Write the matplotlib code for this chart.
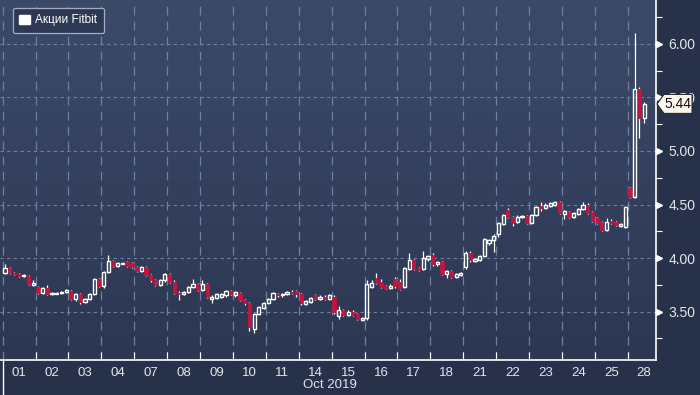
import matplotlib
matplotlib.use('Agg')
import matplotlib.pyplot as plt
import numpy as np
from matplotlib.patches import Rectangle, Polygon, Patch
from matplotlib.colors import LinearSegmentedColormap
import matplotlib.transforms as mtrans

plt.rcParams['font.family'] = ['Liberation Sans Narrow', 'Liberation Sans', 'DejaVu Sans']

# ---------------- data (hourly candles, per trading day) ----------------
day_labels = ['01', '02', '03', '04', '07', '08', '09', '10', '11', '14',
              '15', '16', '17', '18', '21', '22', '23', '24', '25', '28']
month_label = 'Oct 2019'
series_name = 'Акции Fitbit'
last_price = 5.44

opens = [
    [3.86, 3.91, 3.86, 3.85, 3.83, 3.83, 3.75],
    [3.73, 3.67, 3.72, 3.66, 3.66, 3.67, 3.68],
    [3.69, 3.62, 3.66, 3.59, 3.62, 3.66, 3.80],
    [3.74, 3.87, 3.97, 3.93, 3.94, 3.96, 3.95],
    [3.92, 3.88, 3.92, 3.84, 3.79, 3.75, 3.79],
    [3.85, 3.78, 3.67, 3.66, 3.68, 3.73, 3.76],
    [3.70, 3.76, 3.62, 3.63, 3.64, 3.65, 3.69],
    [3.65, 3.67, 3.61, 3.58, 3.34, 3.48, 3.53],
    [3.58, 3.62, 3.66, 3.65, 3.66, 3.68, 3.69],
    [3.66, 3.57, 3.59, 3.65, 3.62, 3.64, 3.62],
    [3.64, 3.46, 3.51, 3.47, 3.50, 3.48, 3.42],
    [3.44, 3.73, 3.81, 3.78, 3.74, 3.72, 3.80],
    [3.78, 3.73, 3.90, 3.98, 3.91, 3.90, 3.99],
    [4.03, 3.94, 3.96, 3.85, 3.88, 3.82, 3.84],
    [3.92, 4.05, 3.97, 3.98, 4.02, 4.14, 4.17],
    [4.22, 4.32, 4.45, 4.38, 4.34, 4.38, 4.39],
    [4.33, 4.40, 4.49, 4.47, 4.49, 4.50, 4.52],
    [4.41, 4.43, 4.38, 4.41, 4.46, 4.50, 4.43],
    [4.37, 4.34, 4.26, 4.35, 4.34, 4.30, 4.29],
    [4.65, 4.57, 5.58, 5.31],
]
closes = [
    [3.91, 3.86, 3.85, 3.83, 3.84, 3.76, 3.77],
    [3.67, 3.72, 3.66, 3.67, 3.67, 3.68, 3.70],
    [3.62, 3.66, 3.59, 3.62, 3.66, 3.80, 3.74],
    [3.87, 3.97, 3.93, 3.95, 3.95, 3.93, 3.92],
    [3.88, 3.92, 3.84, 3.79, 3.75, 3.79, 3.85],
    [3.78, 3.67, 3.66, 3.68, 3.73, 3.76, 3.70],
    [3.76, 3.64, 3.64, 3.66, 3.66, 3.69, 3.66],
    [3.68, 3.61, 3.58, 3.36, 3.48, 3.54, 3.58],
    [3.62, 3.67, 3.65, 3.66, 3.68, 3.67, 3.66],
    [3.58, 3.60, 3.63, 3.62, 3.64, 3.62, 3.65],
    [3.50, 3.51, 3.47, 3.50, 3.47, 3.43, 3.44],
    [3.76, 3.77, 3.77, 3.73, 3.72, 3.74, 3.74],
    [3.71, 3.91, 3.98, 3.90, 3.89, 4.00, 4.02],
    [3.94, 3.96, 3.85, 3.88, 3.82, 3.85, 3.86],
    [4.05, 3.98, 3.99, 4.02, 4.18, 4.17, 4.21],
    [4.33, 4.40, 4.38, 4.33, 4.38, 4.39, 4.33],
    [4.40, 4.48, 4.47, 4.50, 4.51, 4.52, 4.42],
    [4.44, 4.38, 4.42, 4.46, 4.50, 4.42, 4.35],
    [4.33, 4.26, 4.34, 4.33, 4.31, 4.32, 4.48],
    [4.57, 5.58, 5.31, 5.44],
]
highs = [
    [3.94, 3.92, 3.87, 3.86, 3.85, 3.84, 3.79],
    [3.74, 3.73, 3.75, 3.68, 3.68, 3.69, 3.71],
    [3.70, 3.67, 3.67, 3.63, 3.67, 3.81, 3.81],
    [3.88, 4.03, 3.98, 3.96, 3.96, 3.97, 3.96],
    [3.93, 3.93, 3.93, 3.85, 3.80, 3.80, 3.86],
    [3.86, 3.79, 3.69, 3.69, 3.74, 3.80, 3.77],
    [3.79, 3.77, 3.65, 3.67, 3.67, 3.70, 3.70],
    [3.69, 3.68, 3.62, 3.59, 3.49, 3.55, 3.59],
    [3.63, 3.68, 3.67, 3.67, 3.69, 3.70, 3.70],
    [3.67, 3.61, 3.64, 3.66, 3.65, 3.65, 3.66],
    [3.65, 3.55, 3.52, 3.51, 3.51, 3.49, 3.45],
    [3.79, 3.79, 3.86, 3.80, 3.75, 3.76, 3.82],
    [3.80, 3.92, 4.05, 3.99, 3.92, 4.07, 4.03],
    [4.05, 3.97, 3.97, 3.89, 3.89, 3.86, 3.87],
    [4.07, 4.07, 4.00, 4.03, 4.19, 4.18, 4.22],
    [4.34, 4.41, 4.47, 4.39, 4.40, 4.40, 4.40],
    [4.41, 4.49, 4.52, 4.51, 4.52, 4.53, 4.53],
    [4.45, 4.44, 4.43, 4.47, 4.52, 4.51, 4.44],
    [4.38, 4.35, 4.37, 4.36, 4.35, 4.33, 4.49],
    [4.66, 6.10, 5.60, 5.46],
]
lows = [
    [3.85, 3.85, 3.84, 3.82, 3.82, 3.75, 3.74],
    [3.66, 3.66, 3.65, 3.65, 3.66, 3.66, 3.67],
    [3.61, 3.60, 3.57, 3.58, 3.61, 3.65, 3.73],
    [3.72, 3.86, 3.92, 3.92, 3.94, 3.92, 3.91],
    [3.87, 3.87, 3.83, 3.78, 3.74, 3.74, 3.78],
    [3.77, 3.66, 3.61, 3.65, 3.67, 3.72, 3.69],
    [3.69, 3.63, 3.58, 3.62, 3.63, 3.64, 3.65],
    [3.64, 3.60, 3.56, 3.32, 3.30, 3.47, 3.52],
    [3.57, 3.61, 3.64, 3.64, 3.65, 3.66, 3.64],
    [3.56, 3.56, 3.58, 3.61, 3.61, 3.61, 3.61],
    [3.48, 3.43, 3.46, 3.46, 3.46, 3.42, 3.41],
    [3.42, 3.72, 3.76, 3.72, 3.71, 3.71, 3.72],
    [3.70, 3.72, 3.89, 3.89, 3.88, 3.89, 3.97],
    [3.93, 3.93, 3.84, 3.81, 3.81, 3.81, 3.83],
    [3.90, 3.96, 3.96, 3.97, 4.01, 4.12, 4.06],
    [4.20, 4.31, 4.37, 4.30, 4.33, 4.37, 4.32],
    [4.32, 4.39, 4.44, 4.46, 4.48, 4.49, 4.41],
    [4.36, 4.37, 4.37, 4.40, 4.45, 4.41, 4.34],
    [4.32, 4.25, 4.25, 4.32, 4.30, 4.29, 4.28],
    [4.56, 4.56, 5.12, 5.26],
]
y_ticks = [3.50, 4.00, 4.50, 5.00, 5.50, 6.00]

# ---------------- styling ----------------
UP = 'white'
DOWN = '#c0163f'
GRID = '#6d82a3'
TXT = '#e4e6ea'
BARS_PER_DAY = 7

fig = plt.figure(figsize=(7, 3.95), dpi=100, facecolor='#27314a')
ax = fig.add_axes([0, 35 / 395, 656 / 700, 360 / 395])
ax.set_facecolor('#33405c')

cmap = LinearSegmentedColormap.from_list('bg', ['#2c3752', '#3c4a69'])
grad = np.linspace(0, 1, 256).reshape(-1, 1)
ax.imshow(grad, extent=[0, 1, 0, 1], transform=ax.transAxes, cmap=cmap,
          origin='lower', aspect='auto', zorder=0, interpolation='bilinear')

ax.set_xlim(-0.082, 19.86)
ax.set_ylim(3.047, 6.411)

# grid
for i in range(len(day_labels)):
    ax.axvline(i, color=GRID, lw=0.9, dashes=(7, 5), zorder=1)
for yv in y_ticks:
    ax.axhline(yv, color=GRID, lw=0.8, dashes=(3, 3), zorder=1)

# candles
bw = 0.68 / BARS_PER_DAY
for d in range(len(opens)):
    for j in range(len(opens[d])):
        x = d + (j + 0.5) / BARS_PER_DAY
        o, c, h, l = opens[d][j], closes[d][j], highs[d][j], lows[d][j]
        lo_b, hi_b = min(o, c), max(o, c)
        ax.plot([x, x], [hi_b, h], color='white', lw=0.9, zorder=3, solid_capstyle='butt')
        ax.plot([x, x], [l, lo_b], color='white', lw=0.9, zorder=3, solid_capstyle='butt')
        hgt = max(hi_b - lo_b, 0.004)
        if c >= o:
            ax.add_patch(Rectangle((x - bw / 2, lo_b), bw, hgt, facecolor='none',
                                   edgecolor=UP, lw=1.0, zorder=4))
        else:
            ax.add_patch(Rectangle((x - bw / 2, lo_b), bw, hgt, facecolor=DOWN,
                                   edgecolor=DOWN, lw=0.6, zorder=4))

# spines
for s in ['top', 'left']:
    ax.spines[s].set_visible(False)
for s in ['right', 'bottom']:
    ax.spines[s].set_color('white')
    ax.spines[s].set_linewidth(1.2)

# x axis
centers = [i + 0.5 for i in range(len(day_labels))]
ax.set_xticks(centers)
ax.set_xticklabels(day_labels)
ax.set_xticks(list(range(1, len(day_labels))), minor=True)
ax.tick_params(axis='x', which='major', length=0, pad=5, labelsize=9.5, labelcolor=TXT)
ax.tick_params(axis='x', which='minor', direction='in', length=6, width=0.8, color='white')

# y axis
ax.yaxis.tick_right()
ax.set_yticks(y_ticks)
ax.set_yticklabels([f'{v:.2f}' for v in y_ticks])
ax.set_yticks([3.25, 3.75, 4.25, 4.75, 5.25, 5.75, 6.25], minor=True)
ax.tick_params(axis='y', which='major', length=0, pad=9, labelsize=10, labelcolor=TXT)
ax.tick_params(axis='y', which='minor', direction='out', length=4, width=0.8, color='white')
tri_tr = mtrans.blended_transform_factory(ax.transAxes, ax.transData) + \
    mtrans.ScaledTranslation(3 / 100, 0, fig.dpi_scale_trans)
ax.plot([1] * len(y_ticks), y_ticks, linestyle='none', marker='>', ms=5,
        color='white', transform=tri_tr, clip_on=False, zorder=6)

# month label and separator
fig.text(330 / 700, 1 - 385 / 395, month_label, ha='center', va='center',
         fontsize=9.5, color=TXT)
fig.add_artist(plt.Line2D([2.7 / 700, 2.7 / 700], [0, 35 / 395], color='white', lw=1.0))

# legend
leg = ax.legend(handles=[Patch(facecolor='white', edgecolor='white', label=series_name)],
                loc='upper left', bbox_to_anchor=(13 / 656, 1 - 8 / 360),
                frameon=True, facecolor='#2d3954', edgecolor='#a4adc0', framealpha=1,
                fontsize=8.5, labelcolor='white', handlelength=0.85, handleheight=0.85,
                handletextpad=0.5, borderpad=0.55, borderaxespad=0, fancybox=True)
leg.get_frame().set_linewidth(0.9)
leg.set_zorder(10)

# last price tag
fig.canvas.draw()
_, yp = ax.transData.transform((0, last_price))
xs = ax.transAxes.transform((1, 0))[0]
hh = 9.5
pts = [(xs + 1, yp), (xs + 8, yp + hh), (xs + 36, yp + hh), (xs + 36, yp - hh), (xs + 8, yp - hh)]
tag = Polygon(pts, closed=True, facecolor='#fdf6ec', edgecolor='#2a2a2a', lw=0.8,
              transform=mtrans.IdentityTransform(), zorder=20)
fig.add_artist(tag)
fig.text((xs + 22) / 700, yp / 395, f'{last_price:.2f}', ha='center', va='center',
         fontsize=10, color='#111111', zorder=21)

fig.savefig('out.png', dpi=100, facecolor=fig.get_facecolor())
